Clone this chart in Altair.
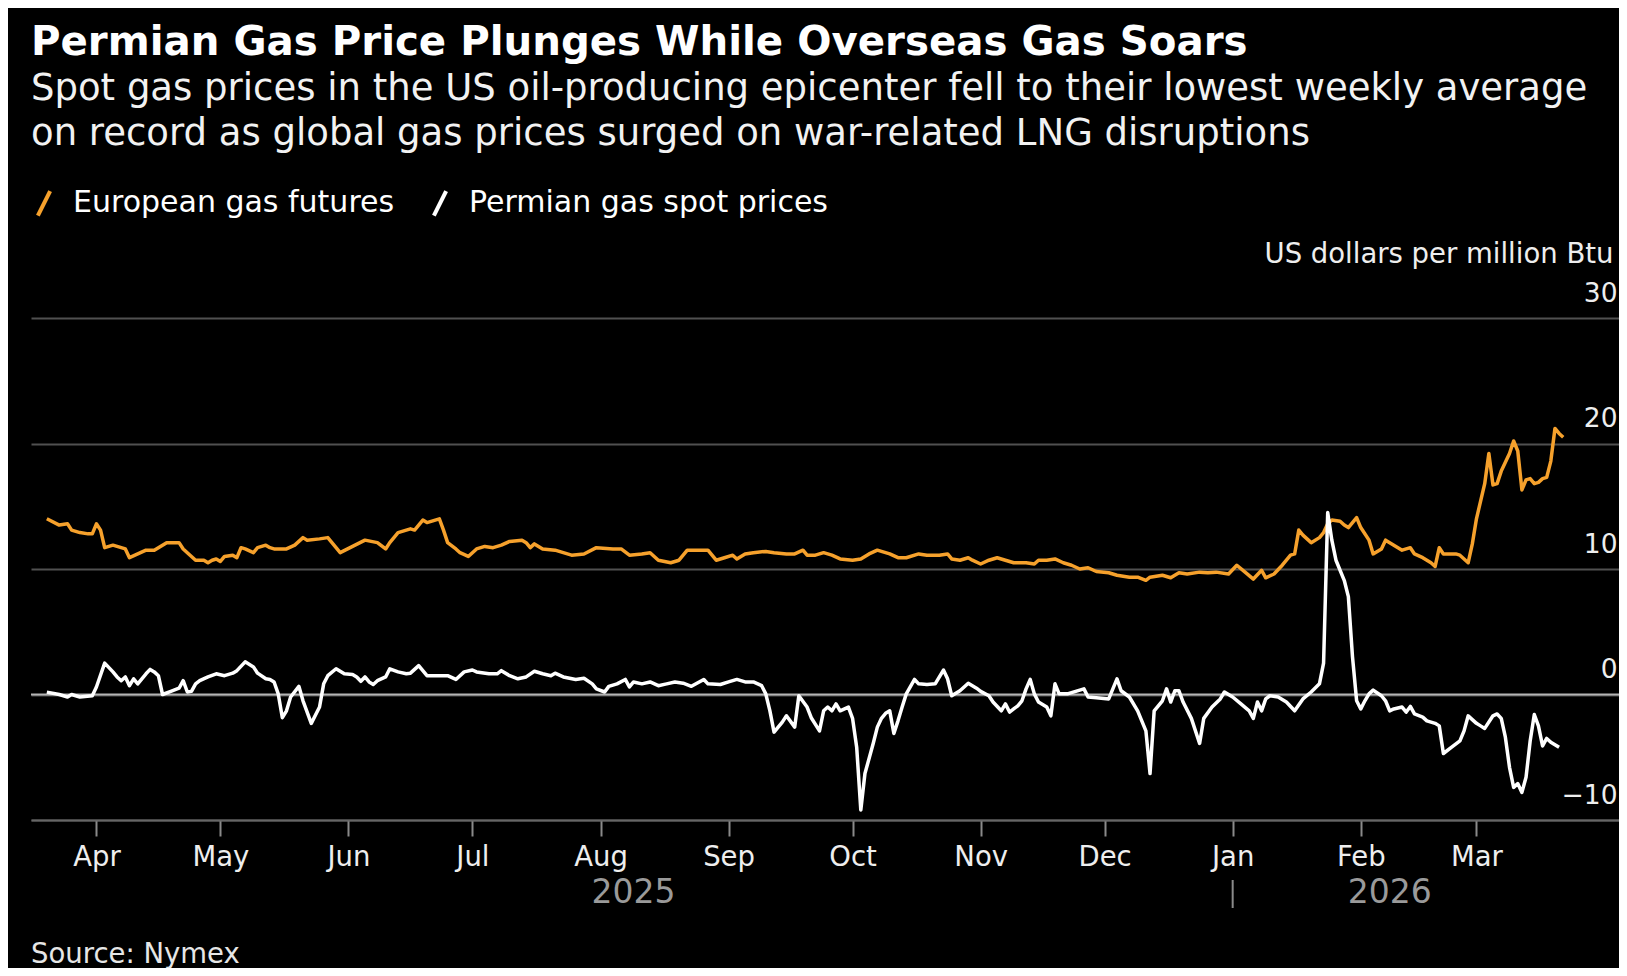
import altair as alt
import pandas as pd

# ---------------- text ----------------
title_text = "Permian Gas Price Plunges While Overseas Gas Soars"
subtitle_lines = [
    "Spot gas prices in the US oil-producing epicenter fell to their lowest weekly average",
    "on record as global gas prices surged on war-related LNG disruptions",
]
series_names = ["European gas futures", "Permian gas spot prices"]
series_colors = ["#f6a12c", "#ffffff"]
y_title = "US dollars per million Btu"
source_text = "Source: Nymex"

# ---------------- data (days counted from 2025-04-01) ----------------
base_date = "2025-04-01"

eu_days = [-12, -9, -7, -6, -4, -2, -1, 0, 1, 2, 4, 6, 7, 8, 10, 12, 14, 15, 17, 19, 20, 21, 24, 26, 27, 28, 29, 30,
           31, 33, 34, 35, 36, 38, 39, 41, 42, 43, 46, 48, 50, 51, 54, 56, 57, 59, 62, 65, 68, 70, 71, 73, 75, 76,
           77, 78, 79, 80, 82, 83, 84, 85, 87, 88, 90, 92, 94, 96, 98, 100, 103, 104, 105, 106, 108, 111, 112, 115,
           118, 121, 125, 127, 129, 132, 134, 136, 139, 141, 143, 146, 148, 150, 152, 154, 155, 157, 159, 162, 164,
           167, 169, 171, 172, 174, 176, 178, 180, 183, 185, 187, 189, 192, 194, 196, 199, 201, 204, 206, 207, 209,
           211, 212, 214, 216, 218, 220, 222, 225, 227, 228, 230, 232, 234, 236, 238, 240, 242, 245, 247, 250, 252,
           254, 255, 258, 260, 262, 264, 267, 269, 271, 274, 276, 278, 280, 282, 283, 285, 287, 289, 290, 291, 292,
           294, 296, 297, 298, 299, 301, 302, 303, 305, 306, 308, 309, 311, 312, 314, 316, 318, 319, 321, 323, 324,
           325, 326, 329, 330, 332, 333, 334, 336, 337, 338, 339, 340, 342, 343, 344, 345, 346, 347, 348, 349, 350,
           351, 352, 353, 354, 355]
eu_vals = [14.0, 13.5, 13.6, 13.1, 12.9, 12.8, 12.8, 13.6, 13.1, 11.7, 11.9, 11.7, 11.6, 10.9, 11.2, 11.5, 11.5, 11.7,
           12.1, 12.1, 12.1, 11.6, 10.7, 10.7, 10.5, 10.7, 10.8, 10.6, 11.0, 11.1, 10.9, 11.7, 11.6, 11.3, 11.7, 11.9,
           11.7, 11.6, 11.6, 11.9, 12.5, 12.3, 12.4, 12.5, 12.1, 11.3, 11.8, 12.3, 12.1, 11.6, 12.1, 12.9, 13.1, 13.2,
           13.1, 13.5, 13.9, 13.7, 13.9, 14.0, 13.1, 12.1, 11.6, 11.3, 11.0, 11.6, 11.8, 11.7, 11.9, 12.2, 12.3, 12.1,
           11.7, 12.0, 11.6, 11.5, 11.4, 11.1, 11.2, 11.7, 11.6, 11.6, 11.1, 11.2, 11.3, 10.7, 10.5, 10.7, 11.5, 11.5,
           11.5, 10.7, 10.9, 11.1, 10.8, 11.2, 11.3, 11.4, 11.3, 11.2, 11.2, 11.5, 11.1, 11.1, 11.3, 11.1, 10.8, 10.7,
           10.8, 11.2, 11.5, 11.2, 10.9, 10.9, 11.2, 11.1, 11.1, 11.2, 10.8, 10.7, 10.9, 10.7, 10.4, 10.7, 10.9, 10.7,
           10.5, 10.5, 10.4, 10.7, 10.7, 10.8, 10.5, 10.3, 10.0, 10.1, 9.8, 9.7, 9.5, 9.35, 9.35, 9.1, 9.35, 9.5, 9.3,
           9.7, 9.6, 9.75, 9.7, 9.75, 9.6, 10.3, 9.75, 9.2, 9.9, 9.3, 9.6, 10.3, 11.1, 11.2, 13.1, 12.7, 12.1, 12.5,
           12.9, 13.6, 13.9, 13.8, 13.5, 13.3, 14.1, 13.3, 12.3, 11.2, 11.6, 12.3, 11.9, 11.5, 11.7, 11.2, 10.9, 10.5,
           10.2, 11.7, 11.2, 11.2, 11.1, 10.5, 12.0, 14.0, 16.8, 19.2, 16.7, 16.8, 17.8, 19.2, 20.2, 19.4, 16.3, 17.1,
           17.2, 16.8, 16.9, 17.2, 17.3, 18.6, 21.2, 20.8, 20.5]

pm_days = [-12, -9, -7, -6, -4, -1, 0, 2, 4, 5, 6, 7, 8, 9, 10, 11, 12, 13, 14, 15, 16, 18, 20, 21, 22, 23, 24, 25,
           27, 29, 31, 33, 34, 36, 38, 39, 41, 42, 43, 44, 45, 46, 47, 49, 50, 52, 54, 55, 56, 58, 60, 62, 63, 64,
           65, 66, 67, 68, 70, 71, 73, 75, 76, 78, 79, 80, 83, 85, 87, 89, 91, 92, 95, 97, 98, 100, 102, 104, 106,
           108, 110, 111, 113, 116, 118, 120, 121, 123, 124, 126, 128, 129, 130, 132, 134, 136, 138, 140, 142, 144,
           147, 148, 151, 153, 155, 157, 159, 161, 162, 163, 164, 166, 167, 169, 170, 172, 173, 175, 176, 177, 178,
           179, 180, 182, 183, 184, 185, 186, 188, 189, 190, 191, 192, 193, 194, 195, 196, 198, 199, 201, 203, 205,
           206, 207, 209, 211, 213, 214, 216, 217, 219, 220, 221, 222, 223, 224, 225, 226, 227, 228, 230, 231, 232,
           233, 235, 237, 239, 240, 242, 245, 247, 248, 250, 252, 254, 255, 256, 258, 259, 260, 261, 262, 263, 265,
           267, 268, 270, 272, 273, 275, 277, 279, 280, 281, 282, 283, 284, 286, 288, 290, 292, 294, 296, 297, 298,
           299, 300, 302, 303, 304, 305, 306, 307, 308, 309, 311, 312, 313, 314, 316, 317, 318, 319, 321, 322, 324,
           325, 326, 328, 330, 331, 332, 334, 335, 336, 338, 339, 340, 341, 342, 343, 344, 345, 346, 347, 348, 349,
           350, 351, 352, 354]
pm_vals = [0.19, 0.0, -0.2, 0.0, -0.2, -0.1, 0.6, 2.5, 1.8, 1.4, 1.1, 1.4, 0.7, 1.25, 0.85, 1.25, 1.65, 2.0, 1.8, 1.5,
           0.0, 0.25, 0.5, 1.1, 0.2, 0.25, 0.85, 1.1, 1.4, 1.65, 1.5, 1.7, 1.9, 2.6, 2.2, 1.7, 1.25, 1.2, 1.0, 0.05,
           -1.85, -1.3, -0.2, 0.65, -0.5, -2.3, -1.0, 0.85, 1.5, 2.05, 1.65, 1.6, 1.4, 1.05, 1.4, 1.0, 0.8, 1.1, 1.4,
           2.05, 1.8, 1.65, 1.7, 2.3, 1.9, 1.5, 1.5, 1.5, 1.2, 1.8, 1.95, 1.8, 1.65, 1.65, 1.9, 1.5, 1.25, 1.4, 1.85,
           1.65, 1.5, 1.7, 1.4, 1.2, 1.3, 0.85, 0.45, 0.2, 0.65, 0.85, 1.2, 0.6, 1.0, 0.85, 1.0, 0.7, 0.85, 1.0, 0.9,
           0.65, 1.2, 0.85, 0.8, 1.0, 1.2, 1.0, 1.0, 0.7, 0.05, -1.3, -3.0, -2.2, -1.7, -2.6, -0.1, -1.0, -1.85, -2.9,
           -1.3, -1.0, -1.3, -0.75, -1.3, -1.0, -1.9, -4.2, -9.2, -6.3, -3.9, -2.6, -1.9, -1.5, -1.3, -3.1, -2.1,
           -1.0, 0.05, 1.2, 0.85, 0.8, 0.85, 1.95, 1.25, -0.1, 0.3, 0.9, 0.5, 0.25, -0.1, -0.6, -1.3, -0.75, -1.4,
           -1.15, -0.9, -0.5, 0.45, 1.2, 0.05, -0.6, -1.0, -1.7, 0.85, 0.05, 0.05, 0.25, 0.45, -0.2, -0.25, -0.35,
           1.25, 0.3, -0.2, -1.3, -2.9, -6.3, -1.3, -0.5, 0.45, -0.6, 0.3, 0.3, -0.6, -1.9, -3.9, -1.9, -1.0, -0.35,
           0.2, -0.2, -0.75, -1.3, -1.9, -0.6, -1.3, -0.35, -0.1, -0.2, -0.6, -1.3, -0.35, 0.2, 0.85, 2.5, 14.5,
           12.3, 10.7, 9.1, 7.8, 3.0, -0.5, -1.15, -0.5, 0.05, 0.35, -0.1, -0.5, -1.3, -1.15, -1.0, -1.4, -0.95,
           -1.55, -1.8, -2.1, -2.3, -2.5, -4.7, -4.2, -3.7, -2.9, -1.7, -2.3, -2.5, -2.7, -1.7, -1.55, -1.9, -3.4,
           -5.8, -7.4, -7.1, -7.8, -6.6, -3.7, -1.6, -2.5, -4.1, -3.5, -3.8, -4.2]

month_ticks = [(2025, m) for m in range(4, 13)] + [(2026, m) for m in range(1, 4)]
y_ticks = [-10, 0, 10, 20, 30]
year_labels = ["2025", "2026"]
year_label_dates = ["2025-08-09", "2026-02-08"]
year_break_dates = ["2026-01-01"]

# ---------------- tables ----------------
base = pd.Timestamp(base_date)


def to_iso(days):
    return list((base + pd.to_timedelta(days, unit="D")).strftime("%Y-%m-%dT%H:%M:%SZ"))


lines_df = pd.concat([
    pd.DataFrame({"date": to_iso(eu_days), "value": eu_vals, "series": series_names[0], "ord": 0}),
    pd.DataFrame({"date": to_iso(pm_days), "value": pm_vals, "series": series_names[1], "ord": 1}),
], ignore_index=True)
years_df = pd.DataFrame({"date": [d + "T00:00:00Z" for d in year_label_dates], "label": year_labels})
break_df = pd.DataFrame({"date": [d + "T00:00:00Z" for d in year_break_dates]})
zero_df = pd.DataFrame({"value": [0]})

FONT = "DejaVu Sans"
W, H = 1588, 502

x_scale = alt.Scale(type="utc",
                    domain=[alt.DateTime(year=2025, month=3, date=16, hours=4, utc=True),
                            alt.DateTime(year=2026, month=4, date=4, hours=12, utc=True)])
y_scale = alt.Scale(domain=[-10, 30], nice=False, zero=False)

x_axis = alt.Axis(
    values=[alt.DateTime(year=y, month=m, date=1, utc=True) for y, m in month_ticks],
    format="%b", grid=False, domain=True, domainColor="#666666", domainWidth=2,
    ticks=True, tickColor="#8a8a8a", tickSize=16, tickWidth=2,
    labelFont=FONT, labelFontSize=27.5, labelColor="#eeeeee", labelPadding=7,
    labelOverlap=False, title=None,
)
y_axis = alt.Axis(
    orient="right", values=y_ticks, grid=True, gridColor="#505050", gridWidth=2,
    domain=False, ticks=False, tickSize=0,
    labelFont=FONT, labelFontSize=26.5, labelColor="#eeeeee", labelAlign="right",
    labelBaseline="alphabetic", labelPadding=-2, labelOffset=-17, labelOverlap=False,
    title=y_title, titleFont=FONT, titleFontSize=27.5, titleFontWeight="normal",
    titleColor="#eeeeee", titleAngle=0, titleAlign="left", titleBaseline="middle",
    titleX=-355, titleY=-64, titleLimit=0,
)

zero_rule = alt.Chart(zero_df).mark_rule(color="#b4b4b4", strokeWidth=2).encode(
    y=alt.Y("value:Q", scale=y_scale, axis=y_axis)
)

lines = alt.Chart(lines_df).mark_line(strokeWidth=3.5, strokeJoin="round").encode(
    x=alt.X("date:T", scale=x_scale, axis=x_axis),
    y=alt.Y("value:Q", scale=y_scale),
    color=alt.Color(
        "series:N",
        scale=alt.Scale(domain=series_names, range=series_colors),
        legend=alt.Legend(
            orient="none", legendX=-2, legendY=-130, direction="horizontal", title=None,
            symbolType="M-0.5,1L0.5,-1", symbolSize=600, symbolStrokeWidth=4,
            labelFont=FONT, labelFontSize=30, labelColor="#ffffff", labelOffset=14,
            labelLimit=0, columnPadding=30, padding=0,
        ),
    ),
    detail="ord:N",
)

year_text = alt.Chart(years_df).mark_text(
    font=FONT, fontSize=33, color="#9a9a9a", baseline="middle", align="center"
).encode(
    x=alt.X("date:T", scale=x_scale),
    y=alt.value(575),
    text="label:N",
)

year_break = alt.Chart(break_df).mark_rule(color="#8a8a8a", strokeWidth=2).encode(
    x=alt.X("date:T", scale=x_scale),
    y=alt.value(562),
    y2=alt.value(590),
)

source = alt.Chart(zero_df).mark_text(
    font=FONT, fontSize=27.5, color="#e6e6e6", align="left", baseline="middle"
).encode(
    x=alt.value(0), y=alt.value(637), text=alt.value(source_text)
)

chart = alt.layer(zero_rule, lines, year_text, year_break, source).properties(
    width=W, height=H,
    autosize=alt.AutoSizeParams(type="none"),
    padding={"left": 23, "top": 310, "right": 0, "bottom": 148},
    title=alt.TitleParams(
        text=title_text, subtitle=subtitle_lines, anchor="start", frame="group",
        font=FONT, fontSize=40.3, fontWeight="bold", color="#ffffff",
        subtitleFont=FONT, subtitleFontSize=37, subtitleColor="#f2f2f2",
        subtitleLineHeight=45.5, subtitlePadding=7, offset=36,
    ),
).configure(background="#000000").configure_view(stroke=None)

chart.save("out.html", embed_options={"renderer": "svg", "actions": False})
